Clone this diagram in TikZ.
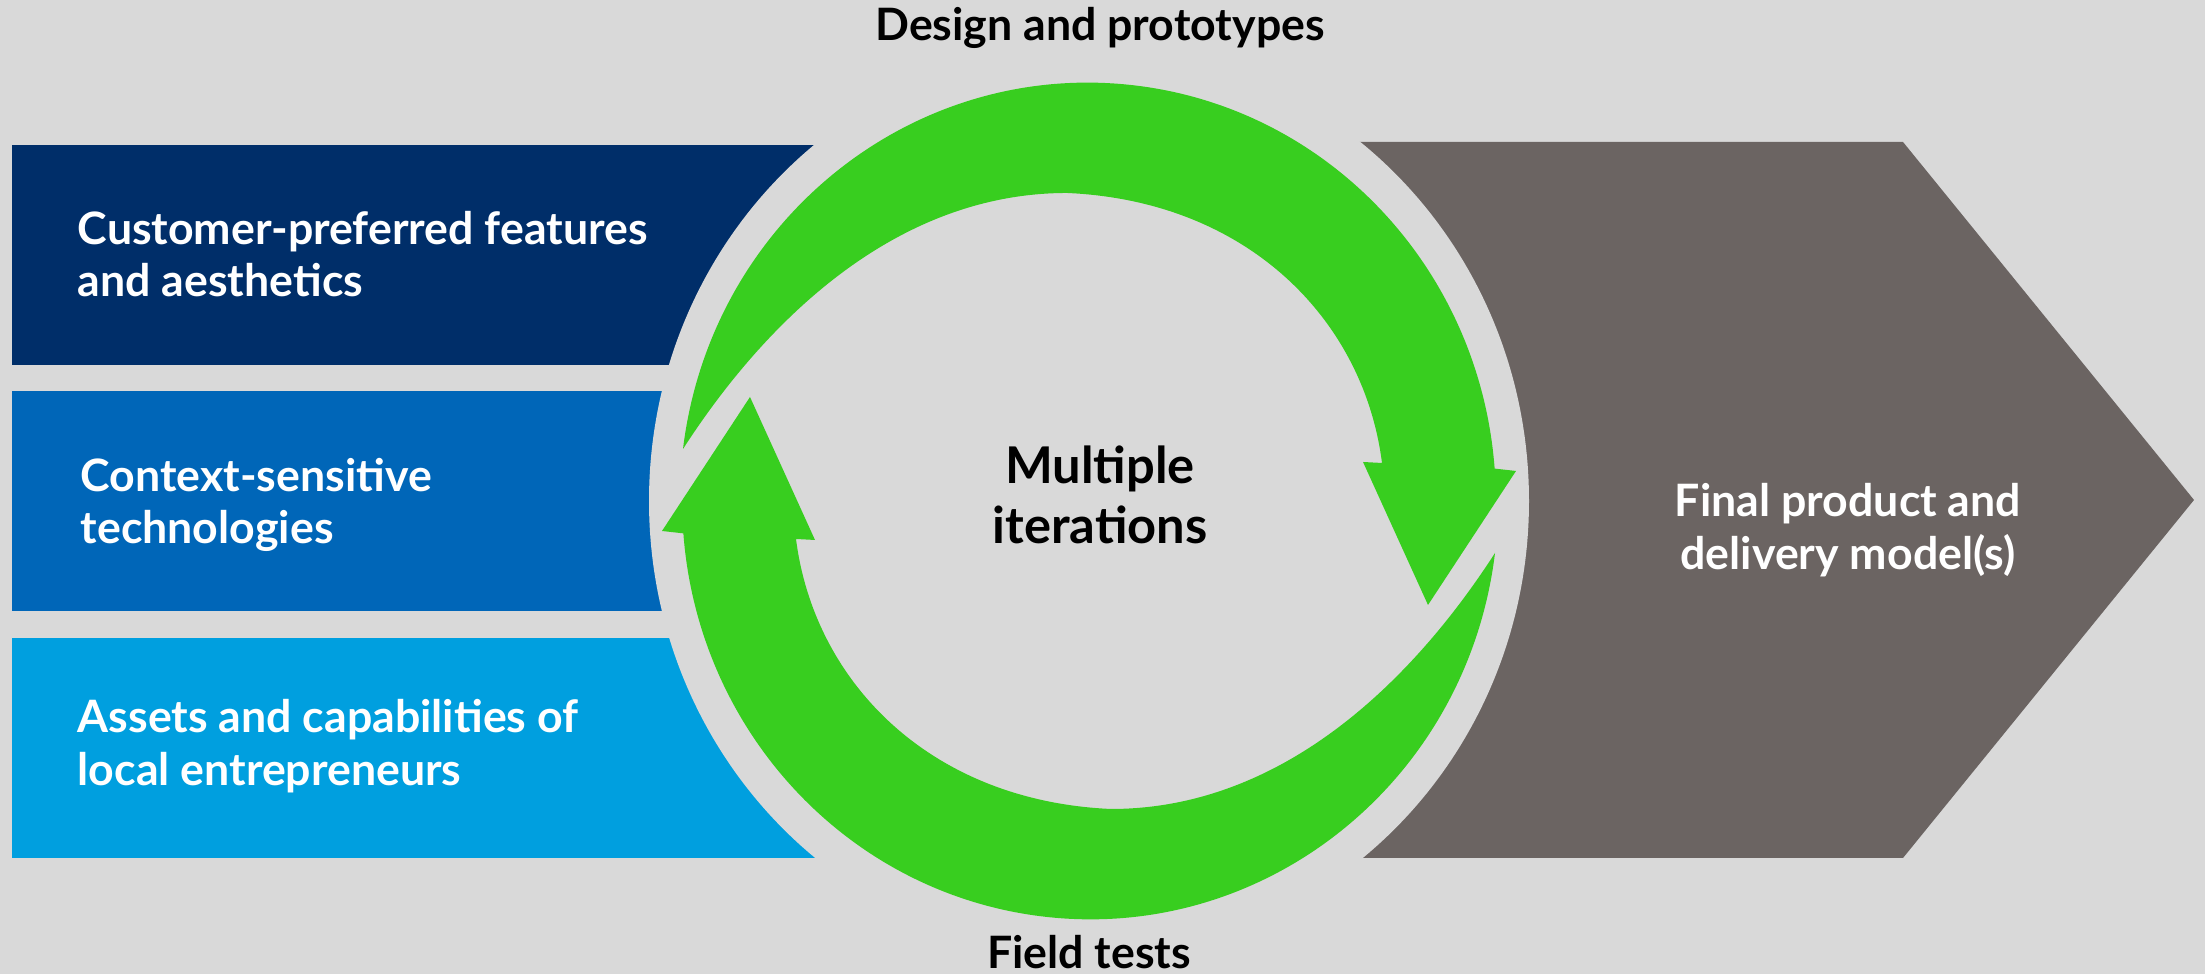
\documentclass[tikz,border=0pt]{standalone}
\usepackage{fontspec}
\setsansfont{Lato}

\definecolor{bgGrey}{HTML}{D9D9D9}
\definecolor{navy}{HTML}{002E69}
\definecolor{midBlue}{HTML}{0066B8}
\definecolor{skyBlue}{HTML}{009FDF}
\definecolor{leafGreen}{HTML}{38CE1F}
\definecolor{stone}{HTML}{6B6462}

\begin{document}
\begin{tikzpicture}[x=0.01cm, y=0.01cm,
    inputtext/.style={font=\sffamily\bfseries\fontsize{12.7}{14.9}\selectfont,
      text=white, align=left, anchor=west, inner sep=0pt},
    outputtext/.style={font=\sffamily\bfseries\fontsize{12.7}{14.9}\selectfont,
      text=white, align=center, inner sep=0pt},
    stagetext/.style={font=\sffamily\bfseries\fontsize{12.7}{14.9}\selectfont,
      text=black, align=center, inner sep=0pt},
    hubtext/.style={font=\sffamily\bfseries\fontsize{14.4}{17}\selectfont,
      text=black, align=center, inner sep=0pt}
  ]
    \fill[bgGrey] (0,0) rectangle (2205,974);

    % inputs on the left, result on the right
    \fill[navy]    (12,609) rectangle (900,829);
    \fill[midBlue] (12,363) rectangle (900,583);
    \fill[skyBlue] (12,116) rectangle (900,336);
    \fill[stone] (1300,832) -- (1903,832) -- (2194,474) -- (1903,116) -- (1300,116) -- cycle;

    % gap round the loop
    \fill[bgGrey] (1089,473) ellipse [x radius=440, y radius=456];

    % the two loop arrows
    \foreach \r in {0,180}
      \fill[leafGreen, shift={(1089,473)}, rotate=\r]
        (-406,52) arc[start angle=172.9, end angle=4.4, x radius=408, y radius=418]
        -- (427,30) -- (339,-104) -- (274,39) -- (293,38)
        .. controls (275,180) and (160,300) .. (-22,308)
        .. controls (-200,308) and (-330,170) .. (-406,52)
        -- cycle;

    \node[inputtext] (features) at (77,720) {Customer-preferred features\\and aesthetics};
    \node[inputtext] (techs)    at (80,469) {Context-sensitive\\technologies};
    \node[inputtext] (assets)   at (77,228) {Assets and capabilities of\\local entrepreneurs};

    \node[outputtext] (final) at (1848,444) {Final product and\\delivery model(s)};

    \node[hubtext] (iter) at (1100,479) {Multiple\\iterations};
    \node[stagetext] (design) at (1100,946) {Design and prototypes};
    \node[stagetext] (field)  at (1089,22)  {Field tests};
  \end{tikzpicture}
\end{document}
